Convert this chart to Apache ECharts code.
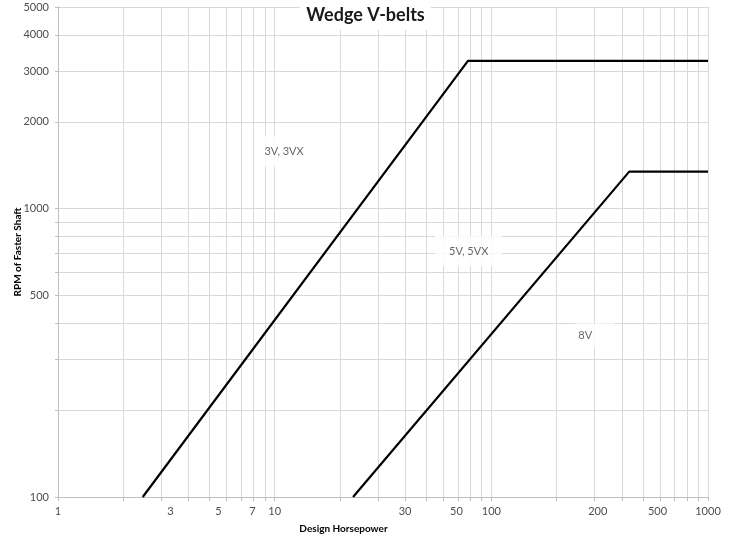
<!DOCTYPE html>
<html>
<head>
<meta charset="utf-8">
<script src="https://cdn.jsdelivr.net/npm/echarts@6/dist/echarts.min.js"></script>
<style>
html,body{margin:0;padding:0;background:#fff;}
#chart{width:731px;height:535px;}
</style>
</head>
<body>
<div id="chart"></div>
<script>
// ---- data ----
const titleText = 'Wedge V-belts';
const xAxisName = 'Design Horsepower';
const yAxisName = 'RPM of Faster Shaft';

const belt3V_hp  = [2.46, 78, 1000];
const belt3V_rpm = [100, 3250, 3250];
const belt5V_hp  = [23, 433, 1000];
const belt5V_rpm = [100, 1343, 1343];

const regionNames = ['3V, 3VX', '5V, 5VX', '8V'];
const regionHp    = [11.05, 78.6, 300];
const regionRpm   = [1584, 713, 362];

const xGridValues = [1,2,3,4,5,6,7,8,9,10,20,30,40,50,60,70,80,90,100,200,300,400,500,600,700,800,900,1000];
const yGridValues = [100,200,300,400,500,600,700,800,900,1000,2000,3000,4000,5000];

const xTickLabels   = ['1','3','5','7','10','30','50','100','200','500','1000'];
const xTickLabelAt  = [1, 3.3, 5.5, 7.9, 10, 40, 69, 100, 310, 585, 1000];
const yTickLabels   = [100, 500, 1000, 2000, 3000, 4000, 5000];

// ---- chart ----
const FONT = 'Lato, "Open Sans", sans-serif';
const regionPadding = [[10, 7, 10, 7], [10, 14, 10, 14], [7, 22, 7, 3]];

function zip(a, b) { return a.map((v, i) => [v, b[i]]); }

const chart = echarts.init(document.getElementById('chart'), null, {renderer: 'canvas'});

chart.setOption({
  animation: false,
  backgroundColor: '#ffffff',
  title: {
    text: titleText,
    left: 'center',
    top: 0,
    backgroundColor: '#ffffff',
    padding: [6, 6, 6, 6],
    textStyle: {fontFamily: FONT, fontSize: 18, fontWeight: 'bold', color: '#1a1a1a'}
  },
  grid: {left: 58, right: 23, top: 7, bottom: 38, containLabel: false, outerBoundsMode: 'none'},
  xAxis: {
    type: 'log',
    logBase: 10,
    min: 1,
    max: 1000,
    name: xAxisName,
    nameLocation: 'middle',
    nameGap: 27,
    nameMoveOverlap: false,
    nameTextStyle: {fontFamily: FONT, fontSize: 10, fontWeight: 'bold', color: '#000', padding: [0, 79, 0, 0]},
    axisLine: {show: true, lineStyle: {color: '#bfbfbf', width: 1}},
    axisTick: {show: true, length: 4, inside: false, customValues: xGridValues, lineStyle: {color: '#bfbfbf'}},
    splitLine: {show: true, lineStyle: {color: '#d9d9d9', width: 1}},
    axisLabel: {
      customValues: xTickLabelAt,
      margin: 9,
      fontFamily: FONT, fontSize: 11, color: '#4d4d4d',
      formatter: function (v) {
        let best = 0, bd = Infinity;
        xTickLabelAt.forEach((p, i) => { const d = Math.abs(Math.log(p) - Math.log(v)); if (d < bd) { bd = d; best = i; } });
        return xTickLabels[best];
      }
    }
  },
  yAxis: {
    type: 'log',
    logBase: 10,
    min: 100,
    max: 5000,
    name: yAxisName,
    nameLocation: 'middle',
    nameGap: 35,
    nameMoveOverlap: false,
    nameTextStyle: {fontFamily: FONT, fontSize: 10, fontWeight: 'bold', color: '#000'},
    axisLine: {show: true, lineStyle: {color: '#bfbfbf', width: 1}},
    axisTick: {show: true, length: 3, inside: false, customValues: yGridValues, lineStyle: {color: '#bfbfbf'}},
    splitLine: {show: true, lineStyle: {color: '#d9d9d9', width: 1}},
    axisLabel: {
      customValues: yTickLabels,
      margin: 9,
      fontFamily: FONT, fontSize: 11, color: '#4d4d4d',
      formatter: function (v) { return String(Math.round(v)); }
    }
  },
  series: [
    {
      name: '3V, 3VX',
      type: 'line',
      data: zip(belt3V_hp, belt3V_rpm),
      symbol: 'none',
      lineStyle: {color: '#000', width: 2.2},
      z: 3
    },
    {
      name: '5V, 5VX',
      type: 'line',
      data: zip(belt5V_hp, belt5V_rpm),
      symbol: 'none',
      lineStyle: {color: '#000', width: 2.2},
      z: 3
    },
    {
      name: 'regions',
      type: 'scatter',
      symbolSize: 1,
      itemStyle: {color: 'rgba(0,0,0,0)'},
      z: 4,
      data: regionNames.map((n, i) => ({
        name: n,
        value: [regionHp[i], regionRpm[i]],
        label: {padding: regionPadding[i]}
      })),
      label: {
        show: true,
        position: 'inside',
        formatter: '{b}',
        backgroundColor: '#ffffff',
        fontFamily: FONT, fontSize: 11, color: '#404040'
      }
    }
  ]
});
</script>
</body>
</html>
